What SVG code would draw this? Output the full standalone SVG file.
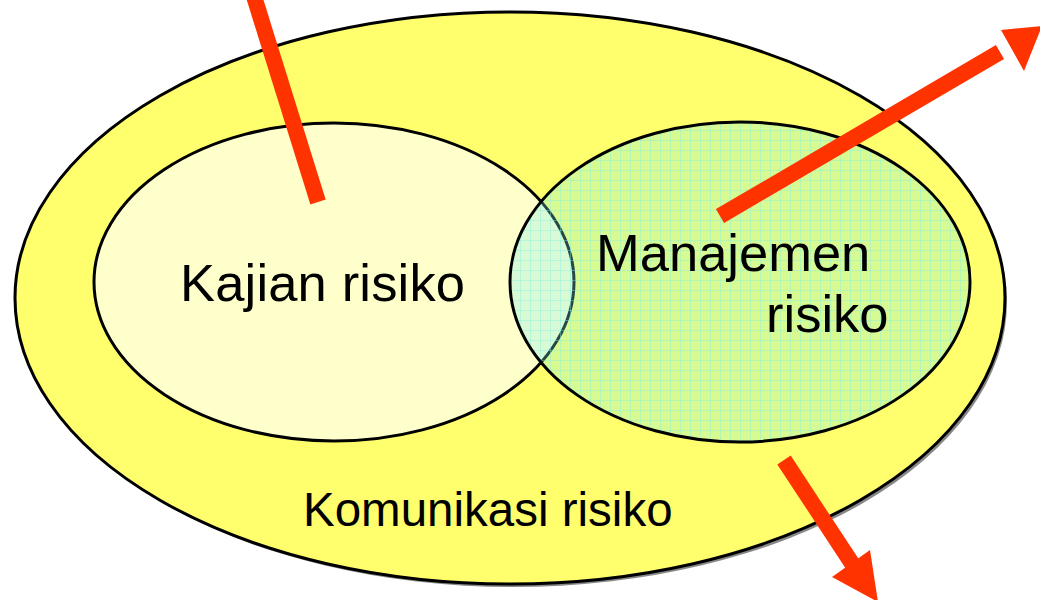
<svg xmlns="http://www.w3.org/2000/svg" width="1040" height="600" viewBox="0 0 1040 600">
<style>
.lbl{font-family:"Liberation Sans",Arial,sans-serif;fill:#000}
.edge{stroke:#000;stroke-width:3}
.arr{fill:#ff3300}
</style>
<defs>
<pattern id="grid" width="10" height="10" patternUnits="userSpaceOnUse">
<rect width="10" height="10" fill="#80f0e8" fill-opacity="0.3"/>
<path d="M0 0.5H10M0.5 0V10" stroke="#80f0e0" stroke-opacity="0.4" stroke-width="1" fill="none"/>
</pattern>
</defs>
<rect width="1040" height="600" fill="#fff"/>
<g id="komunikasi">
<ellipse cx="513" cy="302" rx="494" ry="285" fill="#888"/>
<ellipse cx="510" cy="298" rx="495" ry="286" fill="#ffff6e" class="edge"/>
<text class="lbl" x="303" y="526" font-size="47.5">Komunikasi risiko</text>
</g>
<g id="kajian">
<ellipse cx="334" cy="282" rx="240" ry="159" fill="#ffffcc" class="edge"/>
<text class="lbl" x="180" y="301" font-size="52.5" textLength="285">Kajian risiko</text>
</g>
<g id="manajemen">
<ellipse cx="740" cy="282" rx="230" ry="160" fill="url(#grid)" class="edge"/>
<text class="lbl" x="596" y="271" font-size="52.5">Manajemen</text>
<text class="lbl" x="766" y="332" font-size="52.5">risiko</text>
</g>
<g id="connectors">
<line x1="252" y1="-10" x2="318" y2="202" stroke="#ff3300" stroke-width="16"/>
<line x1="720" y1="216" x2="1000" y2="52" stroke="#ff3300" stroke-width="16"/>
<polygon class="arr" points="1001,30 1042,26 1024,71"/>
<line x1="784" y1="460" x2="855" y2="568" stroke="#ff3300" stroke-width="16"/>
<polygon class="arr" points="832,577 870,550 878,602"/>
</g>
</svg>
